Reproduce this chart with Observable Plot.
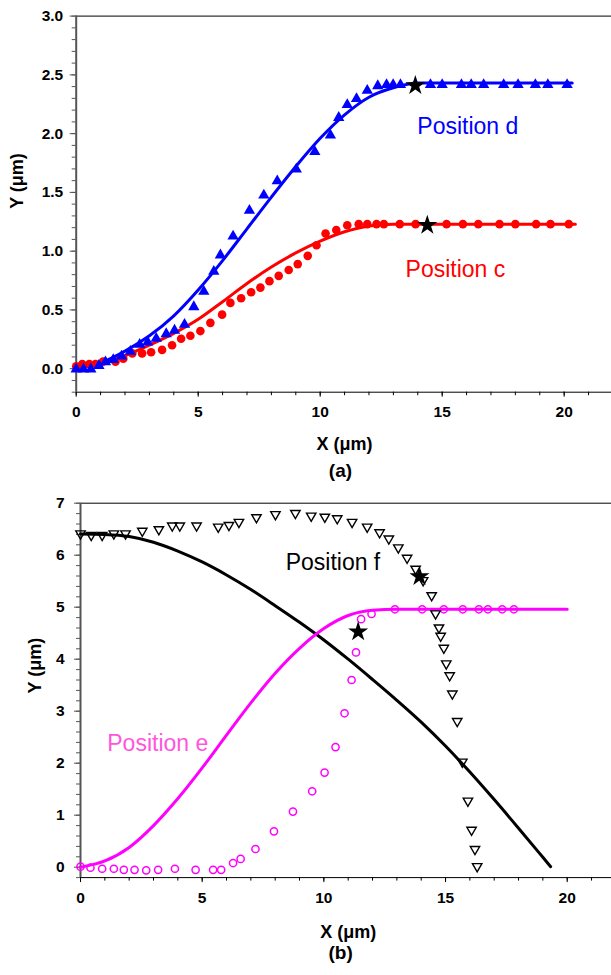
<!DOCTYPE html>
<html>
<head>
<meta charset="utf-8">
<script src="https://cdn.jsdelivr.net/npm/d3@7"></script>
<script src="https://cdn.jsdelivr.net/npm/@observablehq/plot@0.6"></script>
<style>
  body { margin: 0; background: #fff; }
  #chart svg { display: block; }
</style>
</head>
<body>
<div id="chart"></div>
<script>
// ---------------- Panel (a) data ----------------
const dPtsX = [0, 0.3, 0.6, 0.93, 1.2, 1.52, 1.86, 2.22, 2.6, 2.93, 3.28, 3.69, 4.03, 4.44, 4.82, 5.23, 5.64, 5.91, 6.43, 7.1, 7.69, 8.24, 9.02, 9.78, 10.42, 10.76, 11.11, 11.49, 11.93, 12.36, 12.72, 12.99, 13.29, 14.52, 15.0, 15.79, 16.19, 16.7, 17.52, 18.11, 18.82, 19.33, 20.12];
const dPtsY = [0.01, 0.01, 0.01, 0.04, 0.07, 0.09, 0.12, 0.16, 0.22, 0.24, 0.27, 0.31, 0.34, 0.39, 0.54, 0.67, 0.84, 0.98, 1.14, 1.36, 1.49, 1.61, 1.71, 1.86, 2.00, 2.15, 2.26, 2.31, 2.38, 2.42, 2.43, 2.43, 2.43, 2.43, 2.43, 2.43, 2.43, 2.43, 2.43, 2.43, 2.43, 2.43, 2.43];
const dLineX = [0, 1, 2, 3, 4, 5, 6, 7, 8, 9, 10, 11, 12, 13, 14, 20.33];
const dLineY = [0.01, 0.05, 0.15, 0.28, 0.45, 0.67, 0.92, 1.19, 1.46, 1.72, 1.96, 2.16, 2.31, 2.39, 2.43, 2.43];

const cPtsX = [0, 0.25, 0.54, 0.79, 1.1, 1.61, 1.93, 2.3, 2.7, 3.07, 3.52, 3.93, 4.3, 4.68, 5.09, 5.5, 5.98, 6.32, 6.76, 7.17, 7.55, 7.92, 8.3, 8.71, 9.08, 9.49, 9.85, 10.22, 10.66, 11.11, 11.58, 11.93, 12.31, 12.61, 13.26, 13.91, 15.18, 15.85, 16.48, 17.35, 18.0, 18.85, 19.44, 20.19];
const cPtsY = [0.02, 0.04, 0.04, 0.04, 0.06, 0.06, 0.085, 0.13, 0.13, 0.14, 0.16, 0.20, 0.255, 0.28, 0.32, 0.39, 0.46, 0.56, 0.60, 0.65, 0.69, 0.745, 0.79, 0.84, 0.89, 0.96, 1.05, 1.15, 1.18, 1.22, 1.23, 1.23, 1.23, 1.23, 1.23, 1.23, 1.23, 1.23, 1.23, 1.23, 1.23, 1.23, 1.23, 1.23];
const cLineX = [0, 1, 2, 3, 4, 5, 6, 7, 8, 9, 10, 11, 12, 13, 20.46];
const cLineY = [0.01, 0.04, 0.11, 0.20, 0.30, 0.42, 0.57, 0.725, 0.865, 0.985, 1.085, 1.165, 1.215, 1.23, 1.23];

const aStarX = [13.9, 14.39];
const aStarY = [2.41, 1.22];

const aLabels = ["Position d", "Position c"];
const aLabelX = [13.98, 13.5];
const aLabelY = [2.06, 0.84];
const aLabelColors = ["#0000ff", "#ff0000"];

// ---------------- Panel (b) data ----------------
const fPtsX = [0, 0.44, 0.89, 1.37, 1.85, 2.54, 3.22, 3.77, 4.08, 4.77, 5.66, 6.1, 6.51, 7.23, 8.01, 8.83, 9.48, 10.04, 10.55, 11.16, 11.78, 12.29, 12.67, 13.06, 13.42, 13.77, 14.08, 14.43, 14.59, 14.73, 14.8, 14.93, 15.03, 15.17, 15.28, 15.48, 15.69, 15.92, 16.07, 16.21, 16.3];
const fPtsY = [6.39, 6.36, 6.36, 6.39, 6.39, 6.44, 6.47, 6.54, 6.54, 6.54, 6.52, 6.55, 6.61, 6.70, 6.76, 6.78, 6.73, 6.71, 6.68, 6.61, 6.52, 6.41, 6.29, 6.12, 5.92, 5.71, 5.49, 5.20, 4.85, 4.58, 4.42, 4.19, 3.89, 3.66, 3.31, 2.78, 2.00, 1.25, 0.69, 0.32, -0.01];
const fLineX = [0, 1, 2, 3, 4, 5, 6, 7, 8, 9, 10, 11, 12, 13, 14, 15, 16, 17, 18, 19, 19.32];
const fLineY = [6.41, 6.40, 6.36, 6.25, 6.08, 5.87, 5.62, 5.34, 5.03, 4.71, 4.37, 4.00, 3.61, 3.21, 2.79, 2.33, 1.83, 1.30, 0.75, 0.19, 0.01];

const ePtsX = [0, 0.41, 0.89, 1.37, 1.78, 2.22, 2.7, 3.19, 3.88, 4.73, 5.45, 5.78, 6.27, 6.58, 7.19, 7.95, 8.73, 9.52, 10.03, 10.48, 10.85, 11.14, 11.32, 11.53, 11.96, 12.92, 14.04, 14.93, 15.71, 16.37, 16.74, 17.33, 17.81];
const ePtsY = [0.01, -0.01, -0.03, -0.03, -0.05, -0.05, -0.06, -0.05, -0.03, -0.05, -0.05, -0.05, 0.08, 0.16, 0.35, 0.69, 1.07, 1.46, 1.82, 2.31, 2.96, 3.60, 4.13, 4.77, 4.87, 4.96, 4.96, 4.96, 4.96, 4.96, 4.96, 4.96, 4.96];
const eLineX = [0, 1, 2, 3, 4, 5, 6, 7, 8, 9, 10, 11, 12, 13, 20];
const eLineY = [0.0, 0.12, 0.38, 0.80, 1.32, 1.91, 2.54, 3.16, 3.73, 4.21, 4.59, 4.84, 4.94, 4.96, 4.96];

const bStarX = [11.41, 13.93];
const bStarY = [4.53, 5.59];

const bLabels = ["Position f", "Position e"];
const bLabelX = [8.43, 1.1];
const bLabelY = [5.85, 2.38];
const bLabelColors = ["#000000", "#ff55dd"];

// ---------------- Ticks ----------------
const xMajorTicks = [0, 5, 10, 15, 20];
const xMinorTicks = [0, 1, 2, 3, 4, 5, 6, 7, 8, 9, 10, 11, 12, 13, 14, 15, 16, 17, 18, 19, 20, 21];
const aYMajorTicks = [0, 0.5, 1.0, 1.5, 2.0, 2.5, 3.0];
const aYMinorTicks = [-0.2, -0.1, 0, 0.1, 0.2, 0.3, 0.4, 0.5, 0.6, 0.7, 0.8, 0.9, 1.0, 1.1, 1.2, 1.3, 1.4, 1.5, 1.6, 1.7, 1.8, 1.9, 2.0, 2.1, 2.2, 2.3, 2.4, 2.5, 2.6, 2.7, 2.8, 2.9, 3.0];
const bYMajorTicks = [0, 1, 2, 3, 4, 5, 6, 7];
const bYMinorTicks = [-0.2, 0, 0.2, 0.4, 0.6, 0.8, 1, 1.2, 1.4, 1.6, 1.8, 2, 2.2, 2.4, 2.6, 2.8, 3, 3.2, 3.4, 3.6, 3.8, 4, 4.2, 4.4, 4.6, 4.8, 5, 5.2, 5.4, 5.6, 5.8, 6, 6.2, 6.4, 6.6, 6.8, 7];

// ---------------- helpers ----------------
const zip = (xs, ys) => xs.map((x, i) => ({x, y: ys[i]}));
const triUp = {draw(ctx, size) {
  const s = Math.sqrt(size * 4 / Math.sqrt(3)), h = s * Math.sqrt(3) / 2;
  ctx.moveTo(0, -h / 2); ctx.lineTo(s / 2, h / 2); ctx.lineTo(-s / 2, h / 2); ctx.closePath();
}};
const triDown = {draw(ctx, size) {
  const s = Math.sqrt(size * 4 / Math.sqrt(3)), h = s * Math.sqrt(3) / 2;
  ctx.moveTo(-s / 2, -h / 2); ctx.lineTo(s / 2, -h / 2); ctx.lineTo(0, h / 2); ctx.closePath();
}};
const FONT = "'Liberation Sans', Arial, Helvetica, sans-serif";
const axisColor = "#555";

function frameMarks(yMin, yMax, yMajor, yMinor, yFmt, yTickPad) {
  return [
    Plot.ruleY([yMax], {stroke: "#000", strokeWidth: 1}),
    Plot.ruleY([yMin], {stroke: "#000", strokeWidth: 1}),
    Plot.axisY({ticks: yMinor, tickSize: 4, tickFormat: () => "", stroke: axisColor, label: null}),
    Plot.axisY({ticks: yMajor, tickSize: 6, tickPadding: yTickPad, tickFormat: yFmt, stroke: axisColor, label: null}),
    Plot.axisX({ticks: xMinorTicks, tickSize: 3.5, tickFormat: () => "", stroke: "#000", label: null}),
    Plot.axisX({ticks: xMajorTicks, tickSize: 5, tickPadding: 9, tickFormat: d => String(d), stroke: "#000", label: null}),
    Plot.ruleX([0], {stroke: axisColor, strokeWidth: 2})
  ];
}

// ---------------- Panel (a) ----------------
const plotA = Plot.plot({
  width: 611, height: 490,
  marginTop: 15.6, marginBottom: 98.3, marginLeft: 75.7, marginRight: 0,
  x: {domain: [0, 21.94]},
  y: {domain: [-0.2, 3.0]},
  style: {fontFamily: FONT, fontSize: "15.5px", fontWeight: "bold", background: "#fff", color: "#000", overflow: "visible"},
  marks: [
    ...frameMarks(-0.2, 3.0, aYMajorTicks, aYMinorTicks, d => d.toFixed(1), 7),
    Plot.line(zip(cLineX, cLineY), {x: "x", y: "y", stroke: "#ff0000", strokeWidth: 3, curve: "monotone-x"}),
    Plot.line(zip(dLineX, dLineY), {x: "x", y: "y", stroke: "#0000ff", strokeWidth: 3, curve: "monotone-x"}),
    Plot.dot(zip(cPtsX, cPtsY), {x: "x", y: "y", fill: "#ff0000", r: 4.3}),
    Plot.dot(zip(dPtsX, dPtsY), {x: "x", y: "y", fill: "#0000ff", symbol: triUp, r: 4.2}),
    Plot.dot(zip(aStarX, aStarY), {x: "x", y: "y", fill: "#000", symbol: "star", r: 6.3}),
    Plot.text(aLabels, {x: aLabelX, y: aLabelY, text: d => d, fill: aLabelColors, textAnchor: "start", fontSize: 23, fontWeight: "normal"}),
    Plot.text(["X (μm)"], {x: [11.0], frameAnchor: "bottom", dy: 58, text: d => d, fontSize: 18, fontWeight: "bold"}),
    Plot.text(["(a)"], {x: [10.83], frameAnchor: "bottom", dy: 85, text: d => d, fontSize: 19, fontWeight: "bold"}),
    Plot.text(["Y (μm)"], {y: [1.36], frameAnchor: "left", dx: -59, rotate: -90, text: d => d, fontSize: 18, fontWeight: "bold"})
  ]
});

// ---------------- Panel (b) ----------------
const plotB = Plot.plot({
  width: 611, height: 485,
  marginTop: 12.7, marginBottom: 97.9, marginLeft: 80, marginRight: 0,
  x: {domain: [0, 21.82]},
  y: {domain: [-0.2, 7]},
  style: {fontFamily: FONT, fontSize: "15.5px", fontWeight: "bold", background: "#fff", color: "#000", overflow: "visible"},
  marks: [
    ...frameMarks(-0.2, 7, bYMajorTicks, bYMinorTicks, d => String(d), 10),
    Plot.line(zip(fLineX, fLineY), {x: "x", y: "y", stroke: "#000", strokeWidth: 3, curve: "monotone-x"}),
    Plot.line(zip(eLineX, eLineY), {x: "x", y: "y", stroke: "#ff00ff", strokeWidth: 3, curve: "monotone-x"}),
    Plot.dot(zip(ePtsX, ePtsY), {x: "x", y: "y", stroke: "#ff00ff", fill: "none", strokeWidth: 1.5, r: 3.6}),
    Plot.dot(zip(fPtsX, fPtsY), {x: "x", y: "y", stroke: "#000", fill: "none", strokeWidth: 1.4, symbol: triDown, r: 3.5}),
    Plot.dot(zip(bStarX, bStarY), {x: "x", y: "y", fill: "#000", symbol: "star", r: 6.3}),
    Plot.text(bLabels, {x: bLabelX, y: bLabelY, text: d => d, fill: bLabelColors, textAnchor: "start", fontSize: 23, fontWeight: "normal"}),
    Plot.text(["X (μm)"], {x: [11.0], frameAnchor: "bottom", dy: 60, text: d => d, fontSize: 18, fontWeight: "bold"}),
    Plot.text(["(b)"], {x: [10.69], frameAnchor: "bottom", dy: 81, text: d => d, fontSize: 19, fontWeight: "bold"}),
    Plot.text(["Y (μm)"], {y: [3.34], frameAnchor: "left", dx: -45, rotate: -90, text: d => d, fontSize: 18, fontWeight: "bold"})
  ]
});

document.getElementById("chart").append(plotA, plotB);
</script>
</body>
</html>
